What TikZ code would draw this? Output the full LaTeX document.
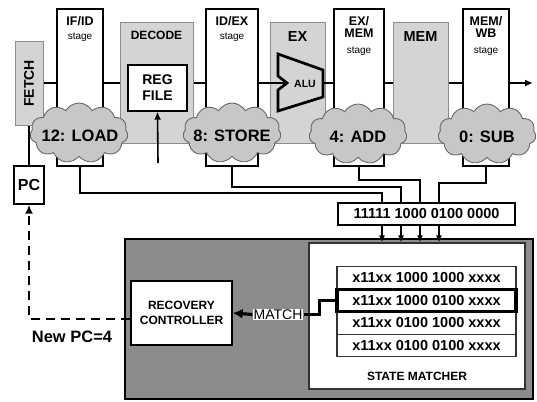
\documentclass[tikz,border=0pt]{standalone}
\usepackage{fontspec}
\setmainfont{Liberation Sans}
\usepackage{tikz}
\usetikzlibrary{arrows.meta, positioning, shapes.symbols, calc}

\newcommand{\fsz}[2]{\fontsize{#1}{#2}\selectfont}

\begin{document}
\begin{tikzpicture}[x=1pt, y=-1pt,
  stagebox/.style={draw, line width=1.4pt, fill=white, minimum height=157pt, inner sep=0pt},
  unitbox/.style={draw=black!45, line width=1pt, fill=black!17, inner sep=0pt},
  plainbox/.style={draw, line width=1.4pt, fill=white, inner sep=0pt, align=center},
  rowbox/.style={draw=black!80, line width=1.1pt, fill=white, minimum width=179pt, minimum height=22.3pt, inner sep=0pt, font=\fsz{14.5}{15}\bfseries},
  puff/.style={cloud, draw=black!60, line width=0.9pt, fill=black!22, cloud puffs=11, cloud puff arc=120, aspect=1.65, minimum width=98pt, minimum height=60pt, inner sep=0pt},
  pufftxt/.style={font=\fsz{16.5}{17}\bfseries, inner sep=0pt},
  stagetxt/.style={anchor=north, align=center, inner sep=0pt},
  pipe/.style={line width=1.8pt},
  wire/.style={line width=1.6pt}
]
\useasboundingbox (0,0) rectangle (537,401);

% recovery unit (background)
\node[draw, line width=1.5pt, fill=black!45, minimum width=408pt, minimum height=160pt] (unit) at (329,319) {};

% functional units
\node[unitbox, minimum width=28pt, minimum height=83pt] (fetch) at (29,83.5) {};
\node[rotate=90, font=\fsz{14}{14}\bfseries] at (fetch) {FETCH};
\node[unitbox, minimum width=73pt, minimum height=120pt] (decode) at (156.5,83) {};
\node[font=\fsz{12}{12}\bfseries] at (156.5,35) {DECODE};
\node[unitbox, minimum width=55pt, minimum height=120pt] (ex) at (297.5,83) {};
\node[font=\fsz{14.5}{15}\bfseries] at (297.5,37) {EX};
\node[unitbox, minimum width=55pt, minimum height=120pt] (mem) at (420.5,83) {};
\node[font=\fsz{14.5}{15}\bfseries] at (420.5,37) {MEM};

% pipeline registers
\node[stagebox, minimum width=46pt] (ifid) at (80,87.5) {};
\node[stagebox, minimum width=52pt] (idex) at (232,87.5) {};
\node[stagebox, minimum width=50pt] (exmem) at (359,87.5) {};
\node[stagebox, minimum width=46pt] (memwb) at (486,87.5) {};
\node[stagetxt] at (80,16) {\fsz{12.5}{13}\bfseries IF/ID\\[2pt]\fsz{10}{11}stage};
\node[stagetxt] at (232,16) {\fsz{12.5}{13}\bfseries ID/EX\\[2pt]\fsz{10}{11}stage};
\node[stagetxt] at (359,16) {\fsz{12.5}{13}\bfseries EX/\\\fsz{12.5}{13}\bfseries MEM\\[4pt]\fsz{10}{11}stage};
\node[stagetxt] at (486,16) {\fsz{12.5}{13}\bfseries MEM/\\\fsz{12.5}{13}\bfseries WB\\[4pt]\fsz{10}{11}stage};

% register file and ALU
\node[plainbox, font=\fsz{14}{16}\bfseries, minimum width=59pt, minimum height=46pt] (reg) at (157.5,88) {REG\\FILE};
\coordinate (regin) at (158,163);
\draw[wire, -{Latex[length=8pt,width=7pt]}] (regin) -- (reg.south);
\draw[line width=2.7pt, line join=miter] (278,54) -- (323,70) -- (323,97) -- (278,111) -- (278,90) -- (287,83) -- (278,76) -- cycle;
\coordinate (alu) at (287,83);
\coordinate (aluout) at (323,83);
\node[font=\fsz{10.5}{11}\bfseries] at (305,84) {ALU};

% pipeline path
\coordinate (pipe) at (0,83);
\coordinate (out) at (533,83);
\draw[pipe] (fetch.east |- pipe) -- (ifid.west |- pipe);
\draw[pipe] (ifid.east |- pipe) -- (decode.west |- pipe);
\draw[pipe] (decode.east |- pipe) -- (idex.west |- pipe);
\draw[pipe] (idex.east |- pipe) -- (alu);
\draw[pipe] (aluout) -- (exmem.west |- pipe);
\draw[pipe] (exmem.east |- pipe) -- (mem.west |- pipe);
\draw[pipe] (mem.east |- pipe) -- (memwb.west |- pipe);
\draw[pipe, -{Latex[length=8pt,width=7pt]}] (memwb.east |- pipe) -- (out);

% instructions in flight
\node[puff] (cload) at (79,133) {};
\node[pufftxt] at (80,136) {12: LOAD};
\node[puff] (cstore) at (232,133) {};
\node[pufftxt] at (232,136) {8: STORE};
\node[puff] (cadd) at (358,134) {};
\node[pufftxt] at (358,137) {4: ADD};
\node[puff] (csub) at (487,134) {};
\node[pufftxt] at (487,137) {0: SUB};

% PC
\node[plainbox, font=\fsz{16}{16}\bfseries, minimum width=30pt, minimum height=38pt] (pc) at (29,185) {PC};
\draw[wire] (fetch.south) -- (pc.north);

% state vector
\node[plainbox, font=\fsz{14.5}{15}\bfseries, minimum width=177pt, minimum height=22pt] (vec) at (426.5,214) {11111 1000 0100 0000};
\coordinate (w1) at (382,193);
\coordinate (w2) at (401,187);
\coordinate (w3) at (420,180);
\coordinate (w4) at (439,183);
\draw[wire] (ifid.south) |- (w1) -- (vec.north -| w1);
\draw[wire] (idex.south) |- (w2) -- (vec.north -| w2);
\draw[wire] (exmem.south) |- (w3) -- (vec.north -| w3);
\draw[wire] (memwb.south) |- (w4) -- (vec.north -| w4);

% state matcher
\node[draw=black!80, line width=1.2pt, fill=white, minimum width=216pt, minimum height=146pt] (matcher) at (417,316) {};
\foreach \w in {w1,w2,w3,w4}
  \draw[wire, -{Latex[length=7pt,width=6pt]}] (vec.south -| \w) -- (matcher.north -| \w);
\node[rowbox] (r1) at (426.5,278) {x11xx 1000 1000 xxxx};
\node[rowbox] (r3) at (426.5,323) {x11xx 0100 1000 xxxx};
\node[rowbox] (r4) at (426.5,345.5) {x11xx 0100 0100 xxxx};
\node[rowbox, line width=3.4pt, draw=black] (r2) at (426.5,300.5) {x11xx 1000 0100 xxxx};
\node[font=\fsz{12}{12}\bfseries] at (417,376) {STATE MATCHER};

% recovery controller
\node[plainbox, font=\fsz{12}{15}\bfseries, minimum width=101pt, minimum height=64pt] (rc) at (181.5,313) {RECOVERY\\CONTROLLER};
\node[fill=white, inner sep=1pt, font=\fsz{14}{14}] (match) at (278,314.5) {MATCH};
\draw[line width=3.2pt] (r2.west) -- ++(-16,0) |- (match.east);
\draw[line width=3.2pt, -{Latex[length=10pt,width=10pt]}] (match.west) -- (rc.east);
\draw[line width=2.8pt, dash pattern=on 9pt off 6pt, -{Latex[length=9pt,width=8pt]}] ([yshift=-6pt]rc.west) -| (pc.south);
\node[font=\fsz{16.5}{17}\bfseries] (newpc) at (72,337) {New PC=4};
\end{tikzpicture}
\end{document}
